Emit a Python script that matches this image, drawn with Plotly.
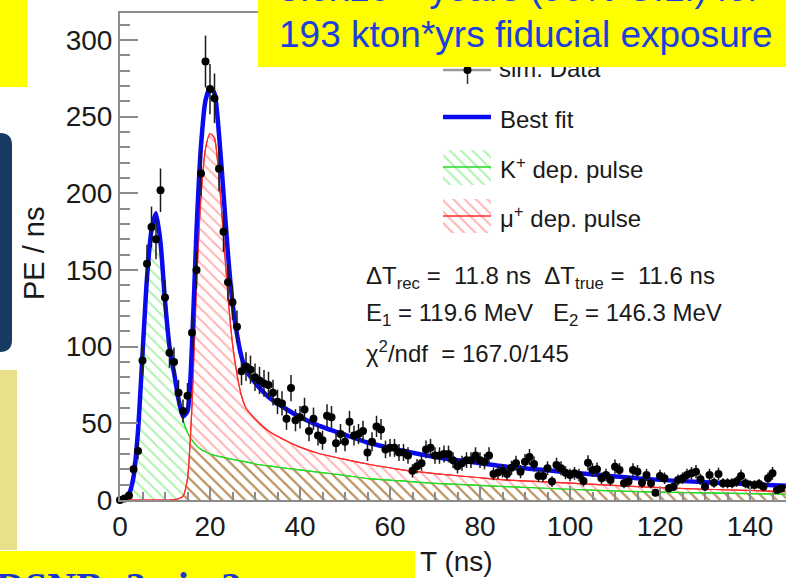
import numpy as np
import plotly.graph_objects as go

# ---------------- data ----------------
# bin centres (ns) of the simulated waveform, 1 ns bins
t_bins = np.arange(0, 148)
pe_per_ns = [
    0, 1, 3, 20, 32, 91, 154, 178, 170, 202,
    132, 96, 90, 70, 58, 68, 109, 150, 213, 286,
    268, 262, 216, 175, 142, 129, 113, 84, 87, 85,
    80, 78, 76, 75, 70, 64, 63, 53, 73, 52,
    54, 59, 45, 53, 42, 39, 55, 54, 37, 43,
    38, 51, 42, 43, 45, 31, 38, 48, 46, 33,
    34, 34, 31, 31, 29, 19, 22, 24, 33, 34,
    29, 29, 30, 30, 26, 22, 24, 26, 26, 29,
    26, 25, 29, 17, 18, 19, 17, 21, 24, 18.5,
    25, 28, 23.5, 15.7, 15.7, 20.7, 12, 22.8, 20.7, 17.8,
    16.3, 17.4, 16.3, 12.4, 24.3, 19.6, 20, 14.2, 16.3, 13,
    21.7, 19.6, 10.9, 12, 19.6, 18.5, 11.3, 16.3, 10.9, 4.8,
    15.7, 14.2, 7.6, 8.7, 13, 14.2, 16.3, 17.4, 18.5, 13.5,
    8.7, 16.3, 11.3, 17, 10.9, 10.9, 10.9, 12, 15.7, 10.9,
    9.8, 9.8, 10.4, 8.7, 14.2, 17.4, 6.5, 7.6,
]
pe_err = np.sqrt(np.maximum(np.array(pe_per_ns, dtype=float), 0.0))

# fitted pulse components sampled along T (ns)
t_fit = [0, 1, 2, 3, 4, 5, 6, 7, 8, 9, 10, 11, 12, 13, 14, 15, 16, 17, 18, 19,
         20, 21, 22, 23, 24, 25, 26, 27, 28, 30, 33, 37, 40, 44, 50, 55, 62, 70,
         80, 86, 100, 115, 130, 148]
kaon_pulse = [0, 1, 4, 15, 45, 95, 145, 176, 187, 168, 130, 100, 83, 65, 52, 44,
              39, 35.5, 33, 31.5, 30, 29.2, 28.5, 27.8, 27.2, 26.5, 26, 25.4, 24.9,
              23.5, 22.2, 20.7, 19.6, 18.2, 16, 14, 12.6, 10.9, 9.5, 8.7, 7, 5.4,
              4.6, 3.8]
muon_pulse = [0, 0, 0, 0, 0, 0, 0, 0, 0, 0, 0, 0, 0.2, 0.8, 2.5, 14, 62, 140, 198,
              229, 239, 236, 210, 172, 133, 102, 82, 68, 60, 53, 45, 38.5, 34.5,
              30.5, 26.5, 23.5, 20, 17.2, 14.5, 13, 11, 8.7, 7, 5.5]

kaon_arr = np.array(kaon_pulse, dtype=float)
muon_arr = np.array(muon_pulse, dtype=float)
best_fit = kaon_arr + muon_arr
shared = np.minimum(kaon_arr, muon_arr)

x_ticks = [0, 20, 40, 60, 80, 100, 120, 140]
y_ticks = [0, 50, 100, 150, 200, 250, 300]

# ---------------- geometry helpers ----------------
W, H = 786, 578
L, R, TOP, BOT = 120, 786, 13, 500
X_RANGE = (0, 148)
Y_RANGE = (0, 317.6)


def xd(px):  # pixel -> data x
    return X_RANGE[0] + (px - L) / (R - L) * (X_RANGE[1] - X_RANGE[0])


def yd(py):  # pixel -> data y
    return Y_RANGE[1] - (py - TOP) / (BOT - TOP) * (Y_RANGE[1] - Y_RANGE[0])


def xp(px):  # pixel -> paper x
    return (px - L) / (R - L)


def yp(py):  # pixel -> paper y
    return (BOT - py) / (BOT - TOP)


FONT = "Liberation Sans, Arial, Helvetica, sans-serif"
GREEN = "#22dd22"
RED = "#ff2a2a"
BLUE = "#0a0aee"
AXIS_GREY = "#8c8c8c"
TEXT_BLUE = "#1c3fdc"


def hatch(color):
    return dict(shape="\\", fgcolor=color, bgcolor="rgba(0,0,0,0)",
                size=8, solidity=0.24)


fig = go.Figure()

# hatched pulse components
fig.add_trace(go.Scatter(
    x=t_fit, y=kaon_arr, mode="lines", line=dict(color=GREEN, width=1.2, shape="spline", smoothing=0.6),
    fill="tozeroy", fillcolor="rgba(0,0,0,0)", fillpattern=hatch("#5ee45e"),
    hoverinfo="skip", showlegend=False))
fig.add_trace(go.Scatter(
    x=t_fit, y=muon_arr, mode="lines", line=dict(color=RED, width=1.2, shape="spline", smoothing=0.6),
    fill="tozeroy", fillcolor="rgba(0,0,0,0)", fillpattern=hatch("#ff6666"),
    hoverinfo="skip", showlegend=False))
fig.add_trace(go.Scatter(
    x=t_fit, y=shared, mode="lines", line=dict(width=0, shape="spline", smoothing=0.6),
    fill="tozeroy", fillcolor="rgba(0,0,0,0)", fillpattern=hatch("#a6743a"),
    hoverinfo="skip", showlegend=False))
# redraw the component outlines above the overlap hatch
fig.add_trace(go.Scatter(
    x=t_fit, y=kaon_arr, mode="lines", line=dict(color=GREEN, width=1.2, shape="spline", smoothing=0.6),
    hoverinfo="skip", showlegend=False))
fig.add_trace(go.Scatter(
    x=t_fit, y=muon_arr, mode="lines", line=dict(color=RED, width=1.2, shape="spline", smoothing=0.6),
    hoverinfo="skip", showlegend=False))

# total fit
fig.add_trace(go.Scatter(
    x=t_fit, y=best_fit, mode="lines", line=dict(color=BLUE, width=4.5, shape="spline", smoothing=0.6),
    hoverinfo="skip", showlegend=False))

# simulated data with errors
fig.add_trace(go.Scatter(
    x=t_bins, y=pe_per_ns, mode="markers",
    marker=dict(color="black", size=8),
    error_y=dict(type="data", array=pe_err, color="#1a1a1a", thickness=1.5, width=0),
    cliponaxis=False, hoverinfo="skip", showlegend=False))

# ---------------- legend swatches ----------------
lx0, lx1 = xd(443), xd(491)
# sim. Data entry
fig.add_trace(go.Scatter(x=[lx0, lx1], y=[yd(70), yd(70)], mode="lines",
                         line=dict(color="#9a9a9a", width=2.5), hoverinfo="skip", showlegend=False))
fig.add_trace(go.Scatter(x=[xd(467.5)], y=[yd(70)], mode="markers",
                         marker=dict(color="black", size=8),
                         error_y=dict(type="constant", value=yd(58) - yd(70), valueminus=yd(70) - yd(84),
                                      symmetric=False, color="#333", thickness=1.5, width=0),
                         hoverinfo="skip", showlegend=False))
fig.add_trace(go.Scatter(x=[xd(499)], y=[yd(71)], mode="text", text=["sim. Data"],
                         textposition="middle right",
                         textfont=dict(family=FONT, size=24, color="#1a1a1a"),
                         hoverinfo="skip", showlegend=False))
# Best fit entry
fig.add_trace(go.Scatter(x=[lx0, lx1], y=[yd(117), yd(117)], mode="lines",
                         line=dict(color=BLUE, width=4.5), hoverinfo="skip", showlegend=False))
# hatched boxes
for (top, bot, mid, fg, lc) in [(150, 185, 167, "#5ee45e", GREEN), (199, 233, 216, "#ff6666", RED)]:
    fig.add_trace(go.Scatter(x=[lx0, lx1, lx1, lx0, lx0], y=[yd(top), yd(top), yd(bot), yd(bot), yd(top)],
                             mode="lines", line=dict(width=0), fill="toself", fillcolor="rgba(0,0,0,0)",
                             fillpattern=hatch(fg), hoverinfo="skip", showlegend=False))
    fig.add_trace(go.Scatter(x=[lx0, lx1], y=[yd(mid), yd(mid)], mode="lines",
                             line=dict(color=lc, width=1.5), hoverinfo="skip", showlegend=False))

# ---------------- annotations ----------------
ann = []


def text(px, py, s, size=24, color="#1a1a1a", xanchor="left", yanchor="middle", family=FONT, **kw):
    ann.append(dict(x=xp(px), y=yp(py), xref="paper", yref="paper", text=s, showarrow=False,
                    xanchor=xanchor, yanchor=yanchor, font=dict(family=family, size=size, color=color), **kw))


text(498, 119, "Best fit")
text(498, 168, "K<sup>+</sup> dep. pulse")
text(498, 217, "\u03bc<sup>+</sup> dep. pulse")
text(364, 277, "\u0394T<sub>rec</sub> =  11.8 ns  \u0394T<sub>true</sub> =  11.6 ns", size=24)
text(364, 314, "E<sub>1</sub> = 119.6 MeV   E<sub>2</sub> = 146.3 MeV", size=24)
text(364, 352, "\u03c7<sup>2</sup>/ndf  = 167.0/145", size=24)
text(34, 253, "PE / ns", size=29, xanchor="center", textangle=-90)
text(418, 561, "T (ns)", size=28)
# slide banners
text(277, -15, "5.9x10<sup>33</sup> years (90% C.L.) for", size=37, color=TEXT_BLUE)
text(277, 34, "193 kton*yrs fiducial exposure", size=37, color=TEXT_BLUE)
text(-6, 562, "<b>DSNB: 3\u03c3 in 3 years</b>", size=40, color="#1a34d0",
     yanchor="top", family="Liberation Serif, Times New Roman, serif")

# ---------------- slide decorations ----------------
shapes = []


def rect(x0, y0, x1, y1, color):
    shapes.append(dict(type="rect", xref="paper", yref="paper", x0=xp(x0), x1=xp(x1), y0=yp(y1), y1=yp(y0),
                       fillcolor=color, line=dict(width=0), layer="above"))


rect(-5, -5, 27.5, 87, "#ffff00")
rect(258, -5, 800, 67, "#ffff00")
rect(-5, 370, 17, 550, "#e9e189")
rect(-5, 551, 415, 590, "#ffff00")


def pth(pts):
    out = []
    for cmd, coords in pts:
        c = " ".join(f"{xp(a):.5f},{yp(b):.5f}" for a, b in coords)
        out.append(f"{cmd}{c}")
    return " ".join(out) + " Z"


navy_path = pth([("M", [(-20, 133)]), ("L", [(0, 133)]), ("Q", [(12, 133), (12, 145)]),
                 ("L", [(12, 340)]), ("Q", [(12, 352), (0, 352)]), ("L", [(-20, 352)])])
shapes.append(dict(type="path", xref="paper", yref="paper", path=navy_path,
                   fillcolor="#173a62", line=dict(width=0), layer="above"))

fig.update_layout(
    width=W, height=H,
    margin=dict(l=L, r=W - R, t=TOP, b=H - BOT),
    paper_bgcolor="white", plot_bgcolor="white",
    font=dict(family=FONT, color="#1a1a1a"),
    annotations=ann, shapes=shapes,
    xaxis=dict(range=list(X_RANGE), tickvals=x_ticks, ticks="inside", ticklen=14, tickwidth=1.5,
               tickcolor=AXIS_GREY, showline=True, linecolor=AXIS_GREY, linewidth=2, mirror=True,
               showgrid=False, zeroline=False, tickfont=dict(size=28, color="#1a1a1a"),
               minor=dict(dtick=5, tick0=0, ticks="inside", ticklen=8, tickwidth=1.5,
                          tickcolor=AXIS_GREY, showgrid=False)),
    yaxis=dict(range=list(Y_RANGE), tickvals=y_ticks, ticks="inside", ticklen=18, tickwidth=1.5,
               tickcolor=AXIS_GREY, showline=True, linecolor=AXIS_GREY, linewidth=2, mirror=False,
               showgrid=False, zeroline=False, tickfont=dict(size=28, color="#1a1a1a"),
               minor=dict(dtick=10, tick0=0, ticks="inside", ticklen=10, tickwidth=1.5,
                          tickcolor=AXIS_GREY, showgrid=False)),
)

fig.write_html("out.html", config={"displayModeBar": False})
